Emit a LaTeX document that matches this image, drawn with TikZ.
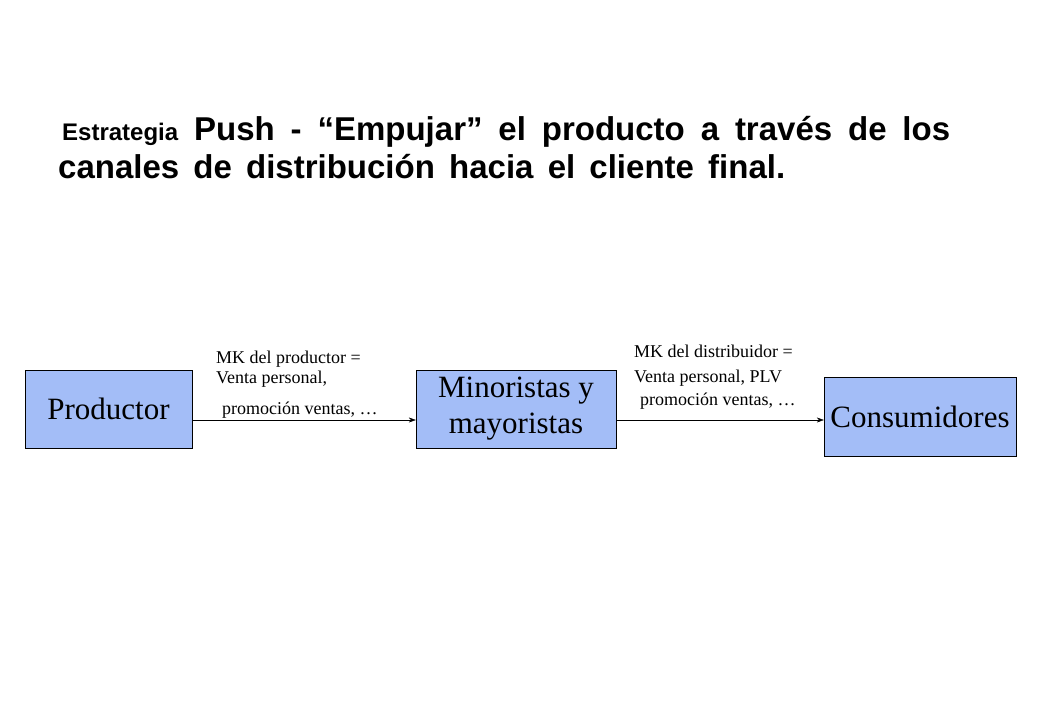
\documentclass[tikz,border=0pt]{standalone}
\usepackage{fontspec}
\setmainfont{Liberation Serif}
\newfontfamily\hsans{Liberation Sans}
\usetikzlibrary{arrows.meta}
\definecolor{boxblue}{HTML}{A3BDF7}
\begin{document}
\begin{tikzpicture}[x=1pt,y=-1pt,
  boxn/.style={draw=black,fill=boxblue,inner sep=0pt,align=center,font=\fontsize{31}{36}\selectfont},
  lab/.style={anchor=base west,inner sep=0pt,font=\fontsize{18}{20}\selectfont},
  arr/.style={-{Stealth[length=7pt,width=5pt]},thin}]
\useasboundingbox (0,0) rectangle (1040,720);
\node[anchor=base west,inner sep=0pt,font=\hsans\bfseries\fontsize{33}{38}\selectfont] (t1) at (62,140) {\makebox[888pt][s]{{\fontsize{24}{28}\selectfont Estrategia} Push - “Empujar” el producto a través de los}};
\node[anchor=base west,inner sep=0pt,font=\hsans\bfseries\fontsize{33}{38}\selectfont] (t2) at (58,178) {\makebox[727pt][s]{canales de distribución hacia el cliente final.}};
\node[boxn,minimum width=167pt,minimum height=78pt] (p) at (108.5,409) {Productor};
\node[boxn,minimum width=200pt,minimum height=78pt] (m) at (516,409) {Minoristas y\\mayoristas};
\node[boxn,minimum width=192pt,minimum height=79pt] (c) at (920,416.5) {Consumidores};
\draw[arr] (p.east |- 0,420) -- (m.west |- 0,420);
\draw[arr] (m.east |- 0,420) -- (c.west |- 0,420);
\node[lab] (l1) at (216,363) {MK del productor =};
\node[lab] (l2) at (216,383) {Venta personal,};
\node[lab] (l3) at (222,414) {promoción ventas, …};
\node[lab] (l4) at (634,357) {MK del distribuidor =};
\node[lab] (l5) at (634,382) {Venta personal, PLV};
\node[lab] (l6) at (640,405) {promoción ventas, …};
\end{tikzpicture}
\end{document}
